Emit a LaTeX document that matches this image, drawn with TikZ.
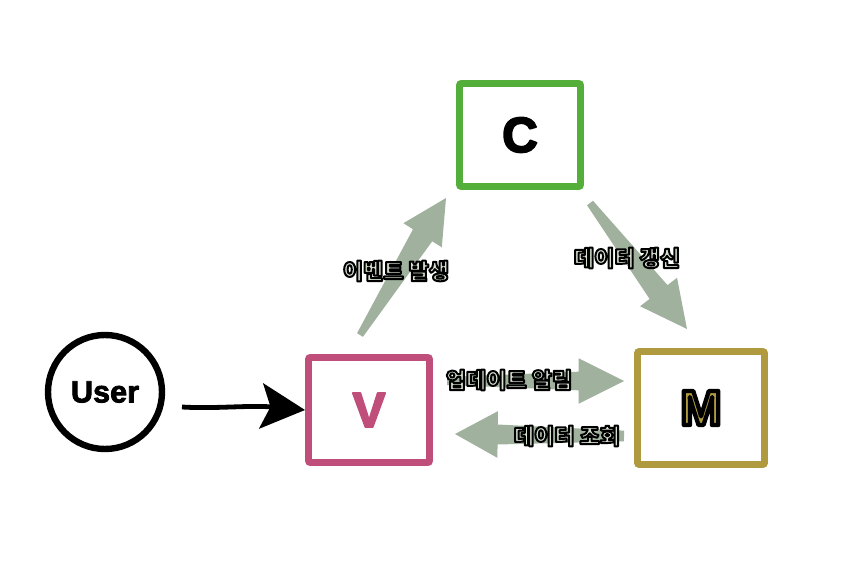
\documentclass[tikz,border=0pt]{standalone}
\usepackage{fontspec}
\setmainfont{Liberation Sans}
\newfontfamily\krfont{Noto Sans CJK KR}
\usetikzlibrary{calc,arrows.meta}
\definecolor{cgreen}{RGB}{84,174,58}
\definecolor{vpink}{RGB}{192,78,122}
\definecolor{molive}{RGB}{176,154,64}
\definecolor{arrowgreen}{RGB}{160,178,158}
\definecolor{lbltext}{RGB}{214,224,208}
% outlined text: fill in current colour, stroke (width #1, RGB #2) with text render mode 2
\newcommand\outlinetext[3]{\special{pdf:literal direct q #1 w 1 j 1 J #2 RG 2 Tr}#3\special{pdf:literal direct 0 Tr Q}}
\tikzset{
  mvcbox/.style={draw, line width=5.2pt, rounded corners=1.5pt, fill=white, inner sep=0pt},
  letter/.style={font=\bfseries\fontsize{37}{37}\selectfont},
  userbox/.style={draw, circle, line width=4.8pt, minimum size=85.5pt, inner sep=0pt},
  krlabel/.style={font=\krfont\bfseries\fontsize{16.5}{16.5}\selectfont, inner sep=0pt, text=lbltext},
  blockfill/.style={fill=arrowgreen},
}
% #1 tail, #2 tip, #3 tail half width, #4 neck half width, #5 head half width, #6 head length
\newcommand\blockarr[6]{%
  \path coordinate (nk) at ($(#2)!#6!(#1)$);
  \fill[blockfill] ($(#1)!#3!90:(#2)$) -- ($(nk)!#4!90:(#2)$) -- ($(nk)!#5!90:(#2)$) -- (#2)
     -- ($(nk)!#5!-90:(#2)$) -- ($(nk)!#4!-90:(#2)$) -- ($(#1)!#3!-90:(#2)$) -- cycle;
}
\begin{document}
\begin{tikzpicture}[x=0.75pt,y=-0.75pt]
\useasboundingbox (0,0) rectangle (848,573);
% nodes
\node[mvcbox, draw=cgreen, minimum width=90.75pt, minimum height=77.25pt] (C) at (520,135) {};
\node[mvcbox, draw=vpink, minimum width=90.75pt, minimum height=78.75pt] (V) at (369,410) {};
\node[mvcbox, draw=molive, minimum width=95.25pt, minimum height=84.75pt] (M) at (701,408) {};
\node[userbox] (U) at (105,392) {};
% letters
\node[letter] (Ct) at (C) {\outlinetext{1.4}{0 0 0}{C}};
\node[letter, text=vpink] (Vt) at (V) {\outlinetext{1.4}{0.753 0.306 0.478}{V}};
\node[letter, text=molive] (Mt) at (M) {\outlinetext{3.2}{0 0 0}{M}};
\node[font=\bfseries\fontsize{23}{23}\selectfont] (Ut) at (U) {\outlinetext{0.6}{0 0 0}{User}};
% arrow end points
\coordinate (upS) at (360,335);  \coordinate (upE) at (446,198);
\coordinate (dnS) at (590,203);  \coordinate (dnE) at (687,329);
\coordinate (rtS) at (447,381);  \coordinate (rtE) at (624,381);
\coordinate (ltS) at (624,436);  \coordinate (ltE) at (455,434);
\coordinate (usS) at (182,407);
\blockarr{upS}{upE}{2.6pt}{8.5pt}{17pt}{33pt}
\blockarr{dnS}{dnE}{2.8pt}{8.5pt}{17.5pt}{35pt}
\blockarr{rtS}{rtE}{3pt}{7pt}{17pt}{34pt}
\blockarr{ltS}{ltE}{4pt}{7.5pt}{17.5pt}{32pt}
% user arrow
\draw[line width=3.6pt, -{Stealth[length=33pt, width=34pt, inset=7pt]}]
  (usS) .. controls (215,409) and (250,405) .. (V.west);
% labels
\node[krlabel] (l1) at (396,271) {\outlinetext{1.5}{0 0 0}{이벤트 발생}};
\node[krlabel] (l2) at (627,258) {\outlinetext{1.5}{0 0 0}{데이터 갱신}};
\node[krlabel] (l3) at (509,380) {\outlinetext{1.5}{0 0 0}{업데이트 알림}};
\node[krlabel] (l4) at (567,436) {\outlinetext{1.5}{0 0 0}{데이터 조회}};
\end{tikzpicture}
\end{document}
